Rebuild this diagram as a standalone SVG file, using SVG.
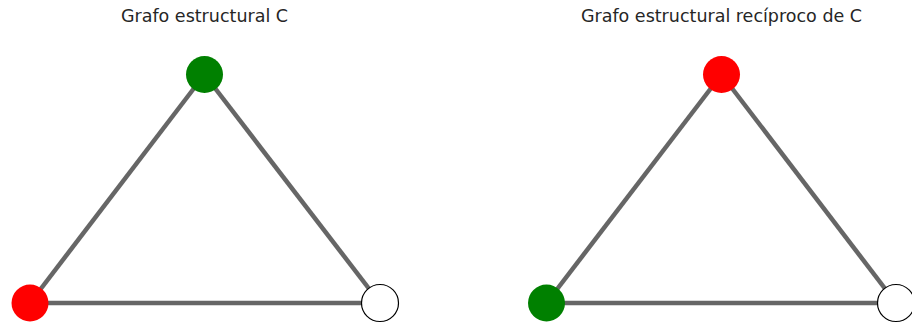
<svg xmlns="http://www.w3.org/2000/svg" width="912" height="324" viewBox="0 0 912 324">
<style>
.title{font-family:"DejaVu Sans",sans-serif;font-size:17.5px;fill:#262626;text-anchor:middle}
.edge{stroke:#666666;stroke-width:4.5;fill:none}
</style>
<rect width="912" height="324" fill="#ffffff"/>
<text class="title" x="204.5" y="22">Grafo estructural C</text>
<text class="title" x="721.5" y="22">Grafo estructural recíproco de C</text>
<g id="edges">
<line class="edge" x1="204.5" y1="74.5" x2="30" y2="303"/>
<line class="edge" x1="204.5" y1="74.5" x2="380" y2="303"/>
<line class="edge" x1="30" y1="303" x2="380" y2="303"/>
<line class="edge" x1="721.5" y1="74.5" x2="546.5" y2="303"/>
<line class="edge" x1="721.5" y1="74.5" x2="896" y2="303"/>
<line class="edge" x1="546.5" y1="303" x2="896" y2="303"/>
</g>
<g id="c-top"><circle cx="204.5" cy="74.5" r="18.5" fill="#008000"/></g>
<g id="c-left"><circle cx="30" cy="303" r="18.5" fill="#ff0000"/></g>
<g id="c-right"><circle cx="380" cy="303" r="18.5" fill="#ffffff" stroke="#000000" stroke-width="1.2"/></g>
<g id="r-top"><circle cx="721.5" cy="74.5" r="18.5" fill="#ff0000"/></g>
<g id="r-left"><circle cx="546.5" cy="303" r="18.5" fill="#008000"/></g>
<g id="r-right"><circle cx="896" cy="303" r="18.5" fill="#ffffff" stroke="#000000" stroke-width="1.2"/></g>
</svg>
